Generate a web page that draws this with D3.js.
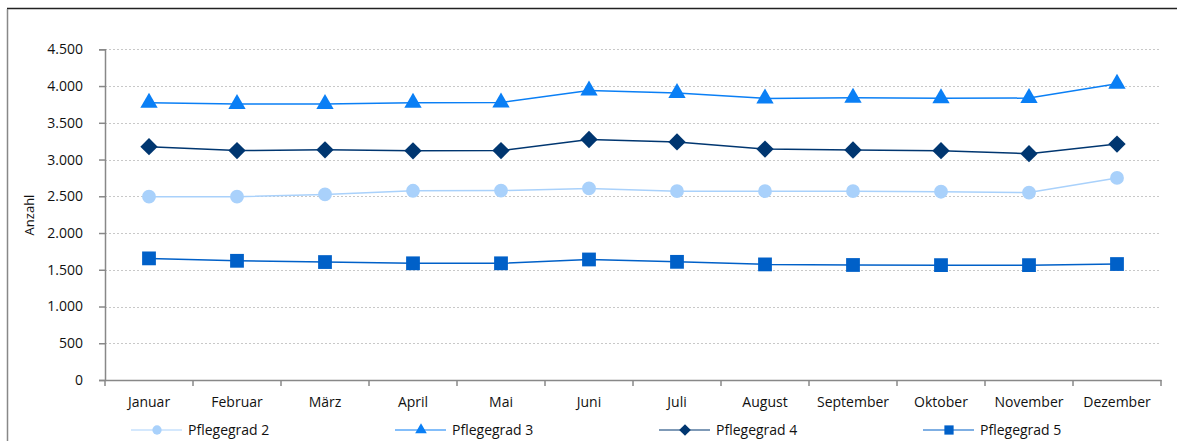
<!DOCTYPE html>
<html><head><meta charset="utf-8">
<script src="https://cdn.jsdelivr.net/npm/d3@7"></script>
<style>
body{margin:0;background:#fff;}
text{font-family:"Liberation Sans Narrow","Open Sans","Noto Sans",sans-serif;fill:#111;}
</style></head><body>
<svg id="c" width="1177" height="441"></svg>
<script>
const months = ["Januar","Februar","März","April","Mai","Juni","Juli","August","September","Oktober","November","Dezember"];
const pg2 = [2495,2495,2525,2575,2578,2607,2570,2570,2570,2562,2550,2750];
const pg3 = [3772,3755,3755,3772,3775,3940,3905,3832,3840,3833,3836,4030];
const pg4 = [3175,3122,3132,3118,3122,3273,3240,3142,3130,3120,3080,3210];
const pg5 = [1655,1622,1605,1588,1588,1640,1608,1573,1565,1563,1563,1578];
const yTicks = [0,500,1000,1500,2000,2500,3000,3500,4000,4500];
const seriesNames = ["Pflegegrad 2","Pflegegrad 3","Pflegegrad 4","Pflegegrad 5"];
const seriesColors = ["#a9d1fb","#0a7ff5","#003670","#0060c8"];
const seriesSymbols = [d3.symbolCircle,d3.symbolTriangle,d3.symbolSquare,d3.symbolSquare];
const seriesRot = [0,0,45,0];
const seriesSizes = [150,130,150,190];

const svg = d3.select("#c");
const pLeft=105, pRight=1161, pTop=49.3, pBottom=380;
// frame
svg.append("line").attr("x1",7).attr("x2",1177).attr("y1",8.5).attr("y2",8.5).attr("stroke","#222").attr("stroke-width",1.5);
svg.append("line").attr("x1",7.5).attr("x2",7.5).attr("y1",9).attr("y2",441).attr("stroke","#888").attr("stroke-width",1.5);

const x = d3.scaleBand().domain(months).range([pLeft,pRight]);
const y = d3.scaleLinear().domain([0,4500]).range([pBottom,pTop]);

// grid
svg.append("g").selectAll("line").data(yTicks.filter(d=>d>0)).join("line")
  .attr("x1",pLeft).attr("x2",pRight).attr("y1",d=>Math.round(y(d))+0.5).attr("y2",d=>Math.round(y(d))+0.5)
  .attr("stroke","#c8c8c8").attr("stroke-dasharray","2,2").attr("stroke-width",1);

// y axis
const ya = svg.append("g").attr("transform",`translate(${pLeft},0)`)
  .call(d3.axisLeft(y).tickValues(yTicks).tickSize(6).tickPadding(16).tickFormat(d=>d3.format(",")(d).replace(/,/g,".")));
ya.select(".domain").attr("stroke","#888").attr("stroke-width",1.5);
ya.selectAll(".tick line").attr("stroke","#888").attr("stroke-width",1.5);
ya.selectAll("text").attr("font-size",14).style("fill","#111");

// x axis
const xa = svg.append("g").attr("transform",`translate(0,${pBottom})`)
  .call(d3.axisBottom(x).tickSize(0).tickPadding(17));
xa.select(".domain").attr("stroke","#888").attr("stroke-width",1.5);
xa.selectAll("text").attr("font-size",14).style("fill","#111");
const bounds = months.map(m=>x(m)).concat([pRight]);
xa.selectAll("line.bt").data(bounds).join("line").attr("class","bt")
  .attr("x1",d=>d).attr("x2",d=>d).attr("y1",0).attr("y2",6).attr("stroke","#888").attr("stroke-width",1.5);

// y label
svg.append("text").attr("transform","translate(34,215) rotate(-90)").attr("text-anchor","middle").attr("font-size",13).text("Anzahl");

const data = [pg2,pg3,pg4,pg5];
const cx = m=>x(m)+x.bandwidth()/2;
const line = d3.line().x((d,i)=>cx(months[i])).y(d=>y(d));
data.forEach((s,k)=>{
  svg.append("path").datum(s).attr("d",line).attr("fill","none").attr("stroke",seriesColors[k]).attr("stroke-width",1.5);
  svg.append("g").selectAll("path").data(s).join("path")
    .attr("transform",(d,i)=>`translate(${cx(months[i])},${y(d)}) rotate(${seriesRot[k]})`)
    .attr("d",d3.symbol().type(seriesSymbols[k]).size(seriesSizes[k]))
    .attr("fill",seriesColors[k]);
});

// legend
const lg = svg.append("g");
seriesNames.forEach((n,k)=>{
  const x0 = 131 + k*264;
  const ly = 430;
  lg.append("line").attr("x1",x0).attr("x2",x0+51).attr("y1",ly).attr("y2",ly).attr("stroke",seriesColors[k]).attr("stroke-width",1.2);
  lg.append("path").attr("transform",`translate(${x0+26},${ly}) rotate(${seriesRot[k]})`).attr("d",d3.symbol().type(seriesSymbols[k]).size(seriesSizes[k]*0.45)).attr("fill",seriesColors[k]);
  lg.append("text").attr("x",x0+57).attr("y",ly+5).attr("font-size",14).text(n);
});
</script></body></html>
